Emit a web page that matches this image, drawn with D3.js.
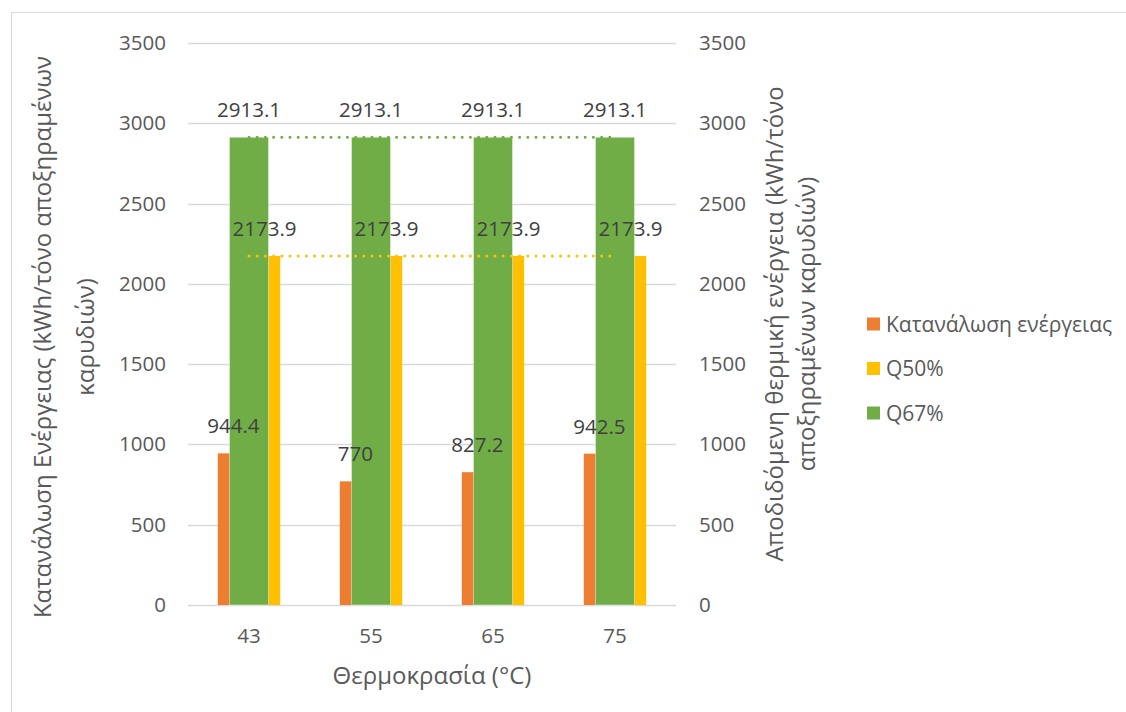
<!DOCTYPE html>
<html>
<head>
<meta charset="utf-8">
<script src="https://cdn.jsdelivr.net/npm/d3@7"></script>
<style>
  html, body { margin: 0; padding: 0; background: #fff; }
  svg { display: block; }
  text { font-family: "Open Sans", "DejaVu Sans", sans-serif; }
</style>
</head>
<body>
<svg id="chart" width="1126" height="712"></svg>
<script>
// Temperatures (°C) on the category axis
const categories = ["43", "55", "65", "75"];
// Energy consumption, kWh per tonne of dried walnuts (primary axis)
const consumption = [944.4, 770, 827.2, 942.5];
// Delivered thermal energy at 50% and 67% (secondary axis)
const q50 = [2173.9, 2173.9, 2173.9, 2173.9];
const q67 = [2913.1, 2913.1, 2913.1, 2913.1];
// Axis ticks (both axes)
const yTicks = [0, 500, 1000, 1500, 2000, 2500, 3000, 3500];

const seriesNames = ["Κατανάλωση ενέργειας", "Q50%", "Q67%"];
const colors = { cons: "#ED7D31", q50: "#FFC000", q67: "#70AD47" };

const svg = d3.select("#chart");
const W = 1126, H = 712;
const plot = { left: 188, right: 676, top: 43, bottom: 605 };

// chart frame
svg.append("rect")
  .attr("x", 11.5).attr("y", 12.5)
  .attr("width", W + 20).attr("height", H + 20)
  .attr("fill", "none").attr("stroke", "#d9d9d9").attr("stroke-width", 1);

const x = d3.scaleBand().domain(categories).range([plot.left, plot.right]).padding(0);
const yL = d3.scaleLinear().domain([0, 3500]).range([plot.bottom, plot.top]);
const yR = d3.scaleLinear().domain([0, 3500]).range([plot.bottom, plot.top]);

// clustered layout of the primary-axis series and the single secondary bar
const xPrim = d3.scaleBand().domain(["cons", "q50"]).range([0, x.bandwidth()])
  .paddingInner(0).paddingOuter(0.955);
const xSec = d3.scaleBand().domain(["q67"]).range([0, x.bandwidth()])
  .paddingInner(0).paddingOuter(1.06);

const tickColor = "#595959";
const labelColor = "#404040";
const fsNum = 20.5;   // numeric labels
const fsTitle = 24;   // axis titles
const fsLegend = 21;  // legend entries

// gridlines
svg.append("g").selectAll("line").data(yTicks).join("line")
  .attr("x1", plot.left).attr("x2", plot.right)
  .attr("y1", d => Math.round(yL(d)) + 0.5).attr("y2", d => Math.round(yL(d)) + 0.5)
  .attr("stroke", "#d9d9d9").attr("stroke-width", 1.3);

const fmt = d3.format("d");

// left axis
const axL = d3.axisLeft(yL).tickValues(yTicks).tickFormat(fmt).tickSize(0).tickPadding(22);
const gL = svg.append("g").attr("transform", `translate(${plot.left},0)`).call(axL);
gL.select(".domain").remove();
gL.selectAll("text").attr("font-size", fsNum).attr("fill", tickColor)
  .style("font-family", "'Open Sans', sans-serif");

// right axis
const axR = d3.axisRight(yR).tickValues(yTicks).tickFormat(fmt).tickSize(0).tickPadding(23);
const gR = svg.append("g").attr("transform", `translate(${plot.right},0)`).call(axR);
gR.select(".domain").remove();
gR.selectAll("text").attr("font-size", fsNum).attr("fill", tickColor)
  .style("font-family", "'Open Sans', sans-serif");

// category axis
const axB = d3.axisBottom(x).tickSize(0).tickPadding(23);
const gB = svg.append("g").attr("transform", `translate(0,${plot.bottom})`).call(axB);
gB.select(".domain").remove();
gB.selectAll("text").attr("font-size", fsNum).attr("fill", tickColor)
  .style("font-family", "'Open Sans', sans-serif");

// primary bars: consumption and Q50%
const prim = [
  { key: "cons", values: consumption },
  { key: "q50", values: q50 }
];
prim.forEach(s => {
  svg.append("g").selectAll("rect").data(s.values).join("rect")
    .attr("x", (d, i) => x(categories[i]) + xPrim(s.key))
    .attr("width", xPrim.bandwidth())
    .attr("y", d => yL(d))
    .attr("height", d => yL(0) - yL(d))
    .attr("fill", colors[s.key]);
});

// secondary bar: Q67%
svg.append("g").selectAll("rect").data(q67).join("rect")
  .attr("x", (d, i) => x(categories[i]) + xSec("q67"))
  .attr("width", xSec.bandwidth())
  .attr("y", d => yR(d))
  .attr("height", d => yR(0) - yR(d))
  .attr("fill", colors.q67)
  .attr("stroke", "#ffffff").attr("stroke-opacity", 0.45).attr("stroke-width", 1);

// linear trend lines for Q50% and Q67%
function linearFit(vals) {
  const xs = vals.map((d, i) => i + 1);
  const mx = d3.mean(xs), my = d3.mean(vals);
  const sxy = d3.sum(xs, (xi, i) => (xi - mx) * (vals[i] - my));
  const sxx = d3.sum(xs, xi => (xi - mx) * (xi - mx));
  const slope = sxx === 0 ? 0 : sxy / sxx;
  return xi => my + slope * (xi - mx);
}
function trend(vals, scale, color) {
  const f = linearFit(vals);
  const pts = vals.map((d, i) => [x(categories[i]) + x.bandwidth() / 2, scale(f(i + 1))]);
  svg.append("path")
    .attr("d", d3.line()(pts))
    .attr("fill", "none").attr("stroke", color)
    .attr("stroke-width", 3).attr("stroke-linecap", "round")
    .attr("stroke-dasharray", "0 8.2");
}
trend(q50, yL, colors.q50);
trend(q67, yR, colors.q67);

// data labels
function labels(vals, scale, offsetFn) {
  svg.append("g").selectAll("text").data(vals).join("text")
    .attr("x", (d, i) => x(categories[i]) + offsetFn())
    .attr("y", d => scale(d) - 20)
    .attr("text-anchor", "middle")
    .attr("font-size", fsNum).attr("fill", labelColor)
    .text(d => d3.format("")(d));
}
labels(consumption, yL, () => xPrim("cons") + xPrim.bandwidth() / 2);
labels(q50, yL, () => xPrim("q50") + xPrim.bandwidth() / 2);
labels(q67, yR, () => xSec("q67") + xSec.bandwidth() / 2);

// axis titles
svg.append("text")
  .attr("transform", `translate(${(plot.left + plot.right) / 2},684)`)
  .attr("text-anchor", "middle").attr("font-size", fsTitle).attr("fill", tickColor)
  .text("Θερμοκρασία (°C)");

const leftTitle = svg.append("text")
  .attr("transform", "translate(0,337) rotate(-90)")
  .attr("text-anchor", "middle").attr("font-size", fsTitle).attr("fill", tickColor);
leftTitle.append("tspan").attr("x", 0).attr("y", 51).text("Κατανάλωση Ενέργειας (kWh/τόνο αποξηραμένων");
leftTitle.append("tspan").attr("x", 0).attr("y", 94).text("καρυδιών)");

const rightTitle = svg.append("text")
  .attr("transform", "translate(0,324) rotate(-90)")
  .attr("text-anchor", "middle").attr("font-size", fsTitle).attr("fill", tickColor);
rightTitle.append("tspan").attr("x", 0).attr("y", 783).text("Αποδιδόμενη θερμική ενέργεια (kWh/τόνο");
rightTitle.append("tspan").attr("x", 0).attr("y", 815).text("αποξηραμένων καρυδιών)");

// legend
const legendKeys = ["cons", "q50", "q67"];
const lg = svg.append("g");
legendKeys.forEach((k, i) => {
  const cy = 324 + i * 44.5;
  lg.append("rect").attr("x", 867).attr("y", cy - 6.5).attr("width", 13).attr("height", 13)
    .attr("fill", colors[k]);
  lg.append("text").attr("x", 886).attr("y", cy + 7.5).attr("font-size", fsLegend).attr("fill", tickColor)
    .text(seriesNames[i]);
});
</script>
</body>
</html>
